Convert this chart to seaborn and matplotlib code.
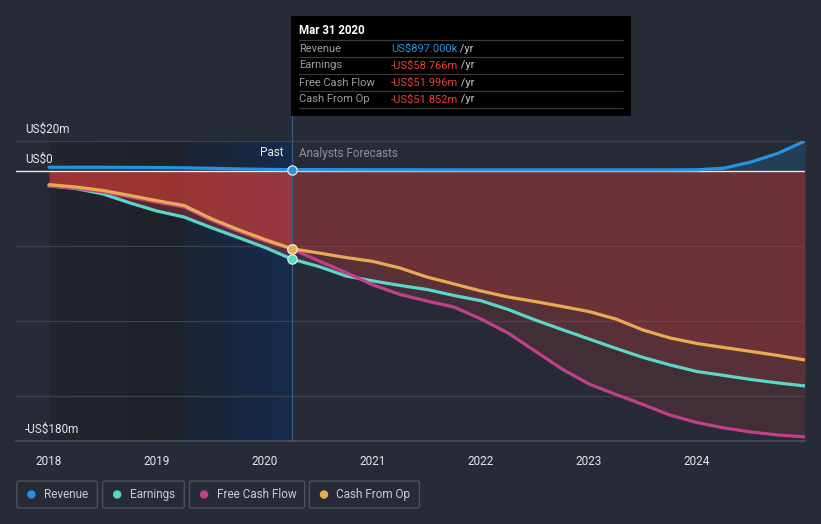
import numpy as np
import pandas as pd
import matplotlib
matplotlib.use('Agg')
import matplotlib.pyplot as plt
import seaborn as sns
from matplotlib.patches import Rectangle, FancyBboxPatch, Ellipse
from matplotlib.lines import Line2D
from matplotlib.text import Annotation

# Data (US$m)
past_t = [2018.0, 2018.25, 2018.5, 2018.75, 2019.0, 2019.25, 2019.5, 2019.75, 2020.0, 2020.25]
fc_t = [2020.5, 2020.75, 2021.0, 2021.25, 2021.5, 2021.75, 2022.0, 2022.25, 2022.5, 2022.75,
        2023.0, 2023.25, 2023.5, 2023.75, 2024.0, 2024.25, 2024.5, 2024.75, 2025.0]

revenue_past = [2.5, 2.5, 2.5, 2.4, 2.3, 2.1, 1.8, 1.4, 1.1, 0.897]
revenue_fc = [0.9, 0.85, 0.8, 0.8, 0.75, 0.7, 0.7, 0.7, 0.7, 0.7,
              0.7, 0.7, 0.7, 0.7, 0.8, 1.9, 6.0, 11.8, 20.0]

earnings_past = [-9.8, -11.7, -15.3, -21.3, -26.7, -30.7, -37.7, -44.3, -51.0, -58.766]
earnings_fc = [-63.7, -70.0, -73.3, -76.3, -79.0, -83.0, -86.5, -92.3, -99.3, -105.7,
               -112.0, -118.3, -124.3, -129.3, -133.7, -136.3, -139.0, -141.3, -143.3]

fcf_past = [-10.0, -11.5, -14.0, -17.3, -20.8, -24.0, -32.7, -40.0, -46.7, -51.996]
fcf_fc = [-60.0, -67.7, -76.0, -82.3, -86.7, -90.7, -98.7, -108.0, -120.0, -132.0,
          -142.0, -149.0, -155.7, -162.7, -167.7, -171.3, -174.0, -176.0, -177.3]

cfo_past = [-9.1, -10.7, -13.0, -16.3, -19.8, -23.0, -31.7, -39.0, -45.7, -51.852]
cfo_fc = [-54.7, -57.7, -60.3, -64.7, -70.7, -75.3, -80.0, -84.0, -87.0, -90.3,
          -93.7, -98.7, -106.0, -111.3, -115.0, -117.7, -120.3, -123.0, -126.0]

series_names = ['Revenue', 'Earnings', 'Free Cash Flow', 'Cash From Op']
colors = ['#2394df', '#5cd6c8', '#c2408a', '#e9aa52']
tooltip_values = ['US$897.000k', '-US$58.766m', '-US$51.996m', '-US$51.852m']
year_ticks = [2018, 2019, 2020, 2021, 2022, 2023, 2024]

W, H = 821, 524
BG = '#262b37'


def fx(x):
    return x / W


def fy(y):
    return 1 - y / H


sns.set_style('dark')
plt.rcParams['font.family'] = ['Roboto', 'DejaVu Sans']

fig = plt.figure(figsize=(W / 100, H / 100), dpi=100, facecolor=BG)
ax = fig.add_axes([fx(16), fy(441), fx(805) - fx(16), fy(141) - fy(441)])
ax.set_facecolor(BG)
x0, x1 = 2017.694, 2025.0
ax.set_xlim(x0, x1)
ax.set_ylim(-180, 20)


def gradient_band(a, b, c0, c1, steps=60):
    edges = np.linspace(a, b, steps + 1)
    cols = np.linspace(c0, c1, steps) / 255
    for l, r, c in zip(edges[:-1], edges[1:], cols):
        ax.axvspan(l, r, color=c, lw=0, zorder=0.1)


# past background shading
gradient_band(2018.0, 2019.25, [33, 37, 45], [29, 33, 40])
gradient_band(2019.25, 2020.25, [27, 36, 52], [21, 43, 76])

# gridlines
for g in [20, -50, -100, -150]:
    ax.axhline(g, color='#3d424e', lw=0.9, zorder=0.5)
ax.axhline(0, color='#e8e8e8', lw=1.0, zorder=3)

# long table for seaborn
t_all = past_t + fc_t
vals = {
    'Revenue': revenue_past + revenue_fc,
    'Earnings': earnings_past + earnings_fc,
    'Free Cash Flow': fcf_past + fcf_fc,
    'Cash From Op': cfo_past + cfo_fc,
}
rows = []
for name in series_names:
    for t, v in zip(t_all, vals[name]):
        rows.append({'year': t, 'value': v, 'series': name})
df = pd.DataFrame(rows)

# area fills
red = '#e0403a'
n = len(past_t)
for name in series_names[1:]:
    v_p = np.array(vals[name][:n])
    v_f = np.array(vals[name][n - 1:])
    ax.fill_between(past_t, 0, v_p, color=red, alpha=0.29, lw=0, zorder=1)
    ax.fill_between(t_all[n - 1:], 0, v_f, color=red, alpha=0.15, lw=0, zorder=1)
ax.fill_between(t_all, 0, vals['Revenue'], color='#2394df', alpha=0.18, lw=0, zorder=1)

sns.lineplot(data=df, x='year', y='value', hue='series', hue_order=series_names,
             palette=colors, linewidth=2.3, legend=False, ax=ax, sort=True)
for ln, z in zip(ax.get_lines()[-4:], [7, 4, 5, 6]):
    ln.set_zorder(z)
    ln.set_solid_joinstyle('round')

# markers at the tooltip date
for name, c in zip(['Free Cash Flow', 'Earnings', 'Cash From Op', 'Revenue'],
                   ['#c2408a', '#5cd6c8', '#e9aa52', '#2394df']):
    ax.scatter([2020.25], [vals[name][n - 1]], s=45, color=c,
               edgecolor='#e6e6e6', linewidth=0.9, zorder=8)

# divider line
ax.plot([2020.25, 2020.25], [-180, 20 + 25 / 1.5], color='#3b5a86', lw=0.9,
        clip_on=False, zorder=2)

# axes styling
for s in ['top', 'right', 'left']:
    ax.spines[s].set_visible(False)
ax.spines['bottom'].set_color('#4b505c')
ax.spines['bottom'].set_linewidth(1.2)
ax.set_xticks(year_ticks)
ax.set_xticklabels([str(y) for y in year_ticks])
ax.tick_params(axis='x', colors='#4b505c', labelcolor='#e6e6e6', length=4, width=1,
               labelsize=8.5, pad=6)
ax.set_yticks([])
ax.set_xlabel('')
ax.set_ylabel('')
ax.grid(False)
ax.set_xlim(x0, x1)
ax.set_ylim(-180, 20)

# y labels
for txt, y in [('US$20m', 129), ('US$0', 159), ('-US$180m', 429)]:
    fig.text(fx(25), fy(y), txt, color='#e6e6e6', fontsize=8.5, va='center', ha='left')

fig.text(fx(283), fy(153), 'Past', color='#e6e6e6', fontsize=8.5, va='center', ha='right')
fig.text(fx(299), fy(153), 'Analysts Forecasts', color='#8c909a', fontsize=8.5,
         va='center', ha='left')

# tooltip
fig.add_artist(Rectangle((fx(291), fy(116)), fx(631) - fx(291), fy(16) - fy(116),
                         transform=fig.transFigure, facecolor='#000000', edgecolor='none',
                         zorder=10))
fig.text(fx(299), fy(31), 'Mar 31 2020', color='white', fontsize=8.3, fontweight='bold',
         va='center', ha='left', zorder=11)
for y in [40, 57, 74, 91, 108]:
    fig.add_artist(Line2D([fx(299), fx(623)], [fy(y), fy(y)], transform=fig.transFigure,
                          color='#3a3a3a', lw=0.9, zorder=11))
for i, (name, val) in enumerate(zip(series_names, tooltip_values)):
    y = 48.5 + 17 * i
    fig.text(fx(299), fy(y), name, color='#9a9ea6', fontsize=8, va='center', ha='left',
             zorder=11)
    vc = '#2394df' if i == 0 else '#e8403c'
    t = fig.text(fx(391), fy(y), val, color=vc, fontsize=8, va='center', ha='left', zorder=11)
    fig.add_artist(Annotation(' /yr', xy=(1, 0.5), xycoords=t, va='center', ha='left',
                              color='#c8c8c8', fontsize=8, zorder=11))

# legend
legend_boxes = [(16.8, 97.4), (102.6, 184.3), (189.5, 304.7), (309.4, 419.4)]
for (l, r), name, c in zip(legend_boxes, series_names, colors):
    fig.add_artist(FancyBboxPatch((fx(l), fy(508)), fx(r) - fx(l), fy(481) - fy(508),
                                  boxstyle='round,pad=0,rounding_size=0.003',
                                  transform=fig.transFigure, facecolor=BG,
                                  edgecolor='#4b505c', lw=1))
    fig.add_artist(Ellipse((fx(l + 14.6), fy(494.5)), 7 / W, 7 / H,
                           transform=fig.transFigure, color=c))
    fig.text(fx(l + 27), fy(494.5), name, color='#c8ccd3', fontsize=8.5, va='center',
             ha='left')

fig.savefig('out.png', dpi=100, facecolor=BG)
